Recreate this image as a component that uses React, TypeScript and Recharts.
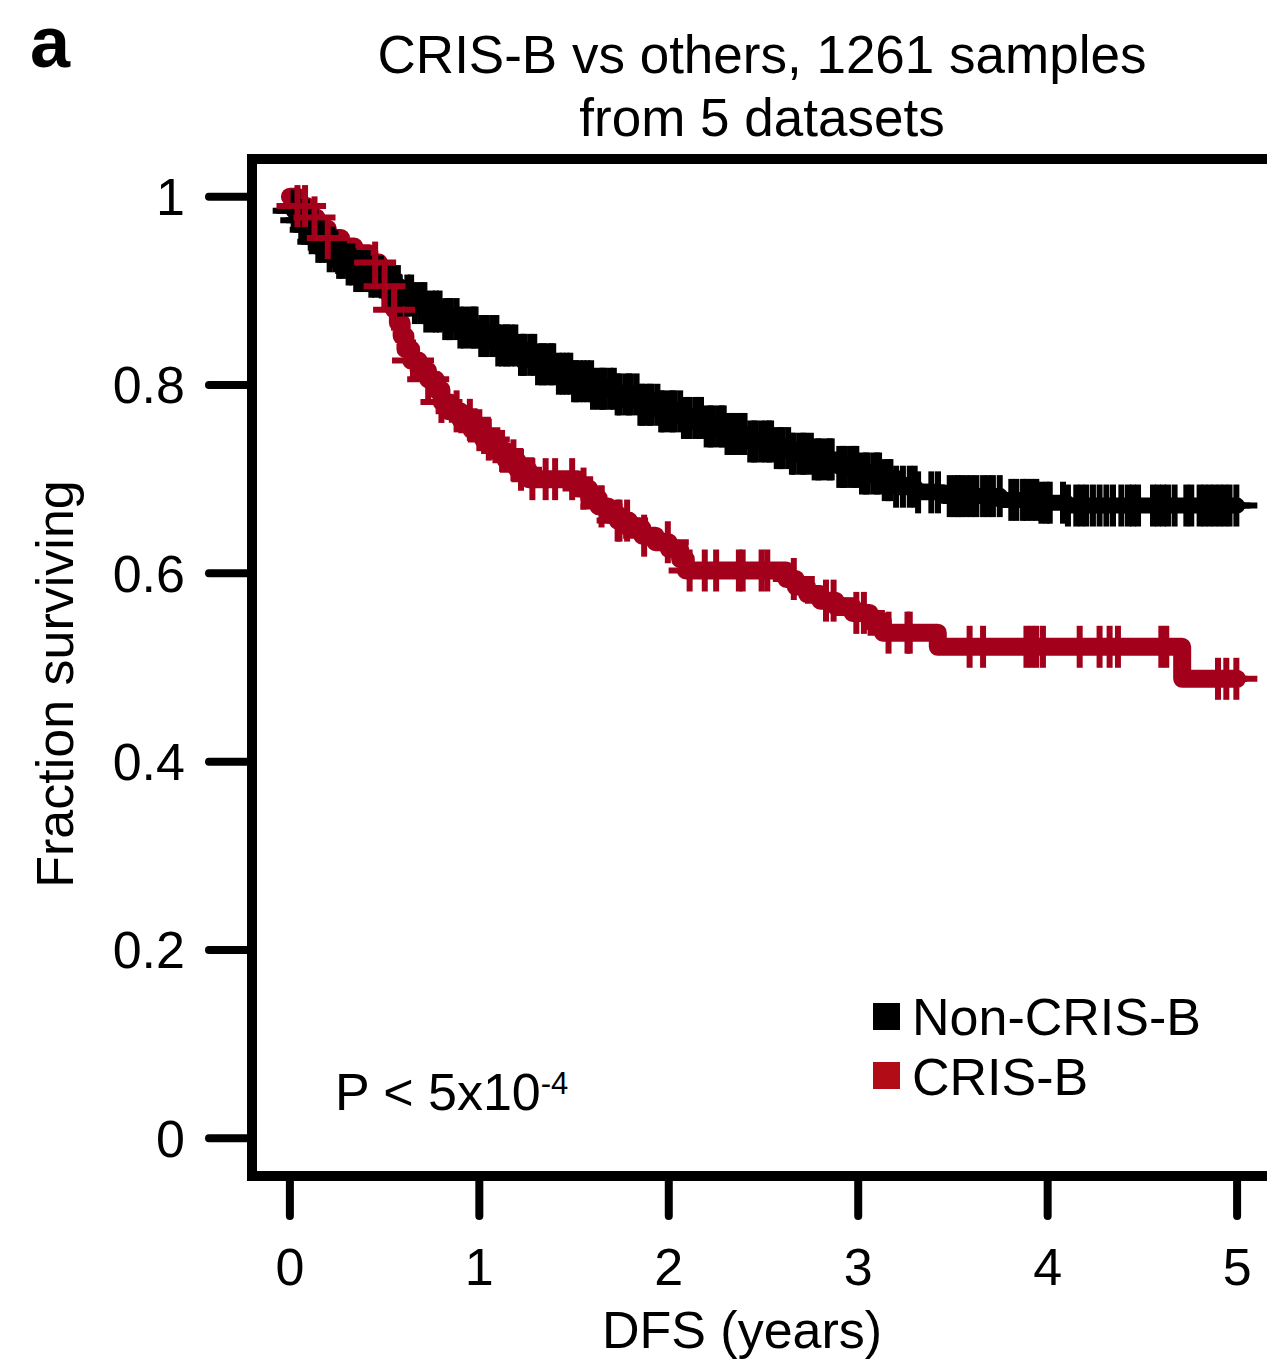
import React from "react";
import {
  ComposedChart,
  Line,
  Scatter,
  XAxis,
  YAxis,
  ReferenceArea,
  Legend,
} from "recharts";

// Kaplan-Meier steps (years, fraction surviving)
const nonCrisTimes = [0, 0.02, 0.05, 0.1, 0.15, 0.2, 0.25, 0.3, 0.35, 0.42, 0.5, 0.58, 0.65, 0.72, 0.8, 0.9, 1.0, 1.1, 1.2, 1.3, 1.4, 1.5, 1.6, 1.72, 1.85, 1.95, 2.07, 2.2, 2.3, 2.42, 2.55, 2.65, 2.77, 2.9, 3.0, 3.12, 3.2, 3.3, 3.45, 3.75, 3.95, 4.1, 5.0];
const nonCrisSurv = [1.0, 0.985, 0.975, 0.965, 0.952, 0.942, 0.935, 0.928, 0.921, 0.915, 0.905, 0.895, 0.887, 0.878, 0.87, 0.861, 0.852, 0.842, 0.832, 0.822, 0.812, 0.804, 0.796, 0.79, 0.779, 0.772, 0.765, 0.756, 0.748, 0.74, 0.733, 0.727, 0.721, 0.713, 0.706, 0.699, 0.692, 0.686, 0.682, 0.678, 0.675, 0.672, 0.672];

const crisTimes = [0, 0.04, 0.09, 0.14, 0.2, 0.27, 0.34, 0.42, 0.47, 0.5, 0.53, 0.55, 0.57, 0.59, 0.61, 0.64, 0.68, 0.73, 0.77, 0.8, 0.84, 0.9, 0.96, 1.02, 1.08, 1.14, 1.2, 1.26, 1.52, 1.58, 1.63, 1.68, 1.73, 1.79, 1.86, 1.93, 2.0, 2.06, 2.09, 2.62, 2.67, 2.73, 2.8, 2.88, 2.97, 3.06, 3.13, 3.42, 4.71, 5.0];
const crisSurv = [1.0, 0.99, 0.978, 0.966, 0.956, 0.947, 0.94, 0.93, 0.918, 0.905, 0.893, 0.88, 0.866, 0.852, 0.838, 0.826, 0.815, 0.806, 0.795, 0.782, 0.772, 0.763, 0.752, 0.742, 0.73, 0.72, 0.71, 0.7, 0.69, 0.68, 0.671, 0.663, 0.656, 0.648, 0.64, 0.633, 0.626, 0.615, 0.603, 0.594, 0.586, 0.578, 0.571, 0.565, 0.558, 0.549, 0.537, 0.522, 0.488, 0.488];

// censoring times (the "+" marks)
const nonCrisCensor = [
  0.02, 0.04, 0.06, 0.09, 0.11, 0.13, 0.15, 0.17, 0.19, 0.21, 0.24, 0.26, 0.28, 0.31, 0.33, 0.35, 0.38, 0.41, 0.43, 0.45, 0.48, 0.5,
  0.52, 0.55, 0.57, 0.58, 0.62, 0.64, 0.66, 0.69, 0.71, 0.72, 0.75, 0.77, 0.79, 0.82, 0.84, 0.85, 0.88, 0.9, 0.92, 0.95, 0.97,
  0.98, 1.01, 1.03, 1.04, 1.07, 1.09, 1.1, 1.12, 1.14, 1.15, 1.17, 1.19, 1.22, 1.23, 1.24, 1.27, 1.29, 1.31, 1.33, 1.34, 1.36,
  1.38, 1.39, 1.42, 1.44, 1.46, 1.48, 1.5, 1.51, 1.53, 1.55, 1.57, 1.59, 1.6, 1.63, 1.65, 1.66, 1.69, 1.71, 1.73, 1.74, 1.77,
  1.79, 1.8, 1.83, 1.85, 1.86, 1.88, 1.9, 1.91, 1.94, 1.96, 1.97, 2.0, 2.02, 2.03, 2.06, 2.08, 2.1, 2.11, 2.14, 2.16, 2.17, 2.2,
  2.22, 2.23, 2.26, 2.28, 2.29, 2.31, 2.33, 2.34, 2.37, 2.39, 2.4, 2.43, 2.45, 2.46, 2.49, 2.51, 2.53, 2.54, 2.57, 2.59, 2.6,
  2.63, 2.65, 2.66, 2.69, 2.71, 2.72, 2.75, 2.77, 2.79, 2.8, 2.83, 2.85, 2.86, 2.9, 2.92, 2.93, 2.96, 2.98, 2.99, 3.02, 3.04,
  3.05, 3.08, 3.1, 3.11, 3.14, 3.16, 3.17, 3.2, 3.236, 3.272, 3.298, 3.316, 3.386, 3.421, 3.483, 3.509, 3.527, 3.544, 3.571,
  3.597, 3.624, 3.659, 3.685, 3.711, 3.747, 3.808, 3.835, 3.87, 3.888, 3.914, 3.94, 3.967, 3.993, 4.011, 4.081, 4.107, 4.151,
  4.177, 4.204, 4.239, 4.274, 4.31, 4.345, 4.389, 4.424, 4.45, 4.477, 4.556, 4.582, 4.609, 4.635, 4.67, 4.732, 4.758, 4.802,
  4.828, 4.855, 4.881, 4.908, 4.934, 4.96, 4.996,
];
const crisCensor = [0.04, 0.08, 0.13, 0.2, 0.45, 0.5, 0.55, 0.65, 0.73, 0.8, 0.88, 0.95, 1.0, 1.05, 1.12, 1.18, 1.22, 1.28, 1.35, 1.4, 1.49, 1.55, 1.645, 1.73, 1.74, 1.78, 1.87, 1.995, 2.11, 2.19, 2.25, 2.37, 2.39, 2.49, 2.52, 2.66, 2.83, 2.87, 2.99, 3.03, 3.16, 3.26, 3.272, 3.588, 3.659, 3.888, 3.914, 3.94, 3.975, 4.169, 4.274, 4.327, 4.371, 4.6, 4.626, 4.899, 4.943, 4.996];

const seriesNames = ["Non-CRIS-B", "CRIS-B"];
const lineColors = ["#000000", "#a3001c"];
const keyColors = ["#000000", "#b20d17"];
const xTicks = [0, 1, 2, 3, 4, 5];
const yTicks = [0, 0.2, 0.4, 0.6, 0.8, 1];

const font = "'Liberation Sans', Arial, sans-serif";

const toSteps = (times: number[], surv: number[]) =>
  times.map((t, i) => ({ t, s: surv[i] }));

const survAt = (times: number[], surv: number[], t: number) => {
  let v = surv[0];
  for (let i = 0; i < times.length; i++) {
    if (times[i] <= t) v = surv[i];
  }
  return v;
};

const toMarks = (censor: number[], times: number[], surv: number[]) =>
  censor.map((t) => ({ t, s: survAt(times, surv, t) }));

const nonCrisData = toSteps(nonCrisTimes, nonCrisSurv);
const crisData = toSteps(crisTimes, crisSurv);
const nonCrisMarks = toMarks(nonCrisCensor, nonCrisTimes, nonCrisSurv);
const crisMarks = toMarks(crisCensor, crisTimes, crisSurv);

const CensorMark = (props: any) => {
  const { cx, cy, fill } = props;
  if (cx == null || cy == null) return null;
  return (
    <g stroke={fill} strokeWidth={6}>
      <line x1={cx} y1={cy - 21} x2={cx} y2={cy + 21} />
      <line x1={cx - 21} y1={cy} x2={cx + 21} y2={cy} />
    </g>
  );
};

// legend box sits at (873, 985) on the page
const renderLegend = () => (
  <svg width={390} height={125} style={{ display: "block" }}>
    {seriesNames.map((name, i) => (
      <g key={name}>
        <rect x={0} y={18 + i * 59} width={27} height={27} fill={keyColors[i]} />
        <text x={39} y={50 + i * 60} fontSize={52} fontFamily={font} fill="#000">
          {name}
        </text>
      </g>
    ))}
  </svg>
);

export default function App() {
  const tickLine = { stroke: "#000", strokeWidth: 8, strokeLinecap: "round" as const };
  return (
    <div
      style={{
        position: "absolute",
        left: 0,
        top: 0,
        width: 1267,
        height: 1365,
        overflow: "hidden",
        background: "#fff",
      }}
    >
      <ComposedChart
        width={1300}
        height={1365}
        margin={{ top: 159, right: 25, bottom: 0, left: 152 }}
      >
        <XAxis
          type="number"
          dataKey="t"
          domain={[-0.2, 5.2]}
          ticks={xTicks}
          allowDataOverflow
          axisLine={false}
          tickSize={40}
          tickMargin={32}
          tickLine={tickLine}
          tick={{ fill: "#000", fontSize: 52, fontFamily: font }}
          height={189}
        />
        <YAxis
          type="number"
          dataKey="s"
          domain={[-0.04, 1.04]}
          ticks={yTicks}
          allowDataOverflow
          axisLine={false}
          tickSize={43}
          tickMargin={24}
          tickLine={tickLine}
          tick={{ fill: "#000", fontSize: 52, fontFamily: font }}
          width={100}
        />
        <ReferenceArea
          x1={-0.2}
          x2={5.2}
          y1={-0.04}
          y2={1.04}
          fill="none"
          stroke="#000"
          strokeWidth={10}
          ifOverflow="visible"
        />
        <Line
          data={nonCrisData}
          dataKey="s"
          name={seriesNames[0]}
          type="stepAfter"
          stroke={lineColors[0]}
          strokeWidth={16}
          strokeLinejoin="round"
          strokeLinecap="round"
          dot={false}
          activeDot={false}
          isAnimationActive={false}
          legendType="square"
        />
        <Scatter
          data={nonCrisMarks}
          dataKey="s"
          fill={lineColors[0]}
          shape={CensorMark}
          legendType="none"
          isAnimationActive={false}
        />
        <Line
          data={crisData}
          dataKey="s"
          name={seriesNames[1]}
          type="stepAfter"
          stroke={lineColors[1]}
          strokeWidth={18}
          strokeLinejoin="round"
          strokeLinecap="round"
          dot={false}
          activeDot={false}
          isAnimationActive={false}
          legendType="square"
        />
        <Scatter
          data={crisMarks}
          dataKey="s"
          fill={lineColors[1]}
          shape={CensorMark}
          legendType="none"
          isAnimationActive={false}
        />
        <Legend
          layout="vertical"
          align="center"
          verticalAlign="middle"
          content={renderLegend}
          wrapperStyle={{ position: "absolute", left: 873, top: 985, width: 390, height: 125 }}
        />
      </ComposedChart>
      <svg
        width={1267}
        height={1365}
        style={{ position: "absolute", left: 0, top: 0, pointerEvents: "none" }}
        fontFamily={font}
        fill="#000"
      >
        <text x={30} y={67} fontSize={72} fontWeight="bold">a</text>
        <text x={762} y={73} fontSize={53} textAnchor="middle">
          CRIS-B vs others, 1261 samples
        </text>
        <text x={762} y={136} fontSize={53} textAnchor="middle">
          from 5 datasets
        </text>
        <text transform="translate(73,684) rotate(-90)" fontSize={52} textAnchor="middle">
          Fraction surviving
        </text>
        <text x={742} y={1348} fontSize={52} textAnchor="middle">
          DFS (years)
        </text>
        <text x={335} y={1110} fontSize={52}>
          P &lt; 5x10
          <tspan dy={-16} fontSize={31}>-4</tspan>
        </text>
      </svg>
    </div>
  );
}
